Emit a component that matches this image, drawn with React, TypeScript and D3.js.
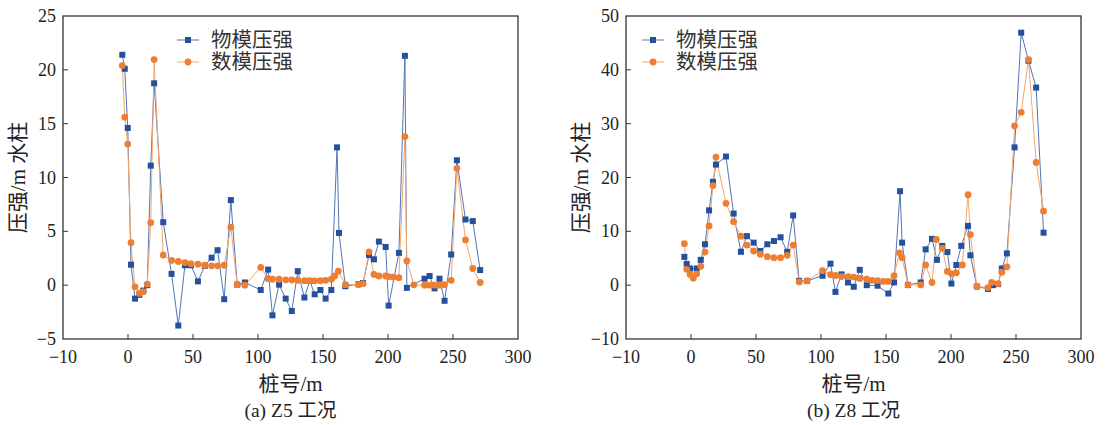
import React from "react";
import * as d3 from "d3";

// ---------- data ----------
const xTickValues = [-50, 0, 50, 100, 150, 200, 250, 300];
const xTickLabels = ["−10", "0", "50", "100", "150", "200", "250", "300"];

const leftYTicks = [-5, 0, 5, 10, 15, 20, 25];
const rightYTicks = [-10, 0, 10, 20, 30, 40, 50];

const seriesNames = ["物模压强", "数模压强"];

// (a) Z5 工况
const z5Physical: [number, number][] = [
  [-4.4, 21.4], [-2.5, 20.1], [-0.2, 14.6], [2.3, 1.9], [5.4, -1.25], [8.7, -0.9], [11.8, -0.5], [14.8, 0],
  [17.5, 11.1], [20.1, 18.75], [27.1, 5.85], [33.5, 1.05], [38.7, -3.75], [43.8, 1.85], [48.4, 1.85], [53.8, 0.35],
  [59.1, 1.8], [64.3, 2.55], [68.9, 3.25], [74, -1.3], [79.1, 7.9], [84, 0.05], [89.9, 0.25], [102.1, -0.45],
  [107.8, 1.45], [111.1, -2.8], [116.2, 0.05], [121.3, -1.25], [126, -2.4], [130.6, 1.3], [135.7, -1.15], [139.8, 0.4],
  [143.6, -0.85], [148, -0.45], [152, -1.25], [156.4, -0.45], [160.8, 12.8], [162.3, 4.85], [167.2, -0.1], [177.4, 0.1],
  [180.8, 0.2], [185.4, 2.8], [189.2, 2.4], [193, 4.05], [198.2, 3.55], [200.5, -1.9], [208.4, 3.0], [213, 21.3],
  [214.5, -0.25], [228.1, 0.6], [232, 0.85], [235.8, -0.3], [239.6, 0.6], [243.5, -1.45], [248.6, 2.85], [253, 11.6],
  [259.6, 6.1], [265.2, 5.95], [270.9, 1.4],
];
const z5Numerical: [number, number][] = [
  [-4.4, 20.4], [-2.5, 15.6], [-0.2, 13.1], [2.3, 3.95], [5.4, -0.15], [8.7, -0.75], [11.8, -0.6], [14.8, 0.1],
  [17.5, 5.8], [20.1, 20.95], [27.1, 2.8], [33.5, 2.3], [38.7, 2.2], [43.8, 2.1], [48.4, 2.0], [53.8, 1.95],
  [59.1, 1.85], [64.3, 1.8], [68.9, 1.8], [74, 1.85], [79.1, 5.4], [84, 0.05], [89.9, 0], [102.1, 1.65],
  [107.8, 0.6], [111.1, 0.55], [116.2, 0.55], [121.3, 0.5], [126, 0.48], [130.6, 0.45], [135.7, 0.42], [139.8, 0.4],
  [143.6, 0.4], [148, 0.42], [152, 0.45], [156.4, 0.55], [159, 0.85], [161.8, 1.3], [167.2, 0.05], [177.4, 0.05],
  [180.8, 0.15], [185.4, 3.1], [189.2, 1.0], [193, 0.85], [198.2, 0.85], [200.5, 0.8], [204, 0.75], [208.4, 0.7],
  [213, 13.8], [214.5, 2.25], [219.9, 0.03], [228.1, 0], [232, 0], [235.8, 0], [239.6, 0], [243.5, 0.05],
  [248.6, 0.45], [253, 10.85], [259.6, 4.2], [265.2, 1.55], [270.9, 0.25],
];

// (b) Z8 工况
const z8Physical: [number, number][] = [
  [-5.1, 5.25], [-3.3, 3.95], [-0.7, 3.1], [4.4, 3.1], [7.5, 4.7], [10.8, 7.6], [13.9, 13.9], [16.9, 19.2],
  [19.2, 22.4], [26.9, 23.9], [32.8, 13.3], [38.4, 6.2], [43, 9.1], [48.2, 7.9], [53.3, 6.35], [58.7, 7.6],
  [63.8, 8.2], [68.9, 8.9], [74, 6.2], [78.6, 12.95], [83.2, 0.8], [89.3, 0.8], [101.2, 1.75], [107.3, 4.0],
  [111.1, -1.25], [115.8, 2.0], [120.8, 0.5], [125.2, -0.3], [129.8, 2.85], [135.2, 0], [143.5, -0.1], [151.8, -1.55],
  [156.2, 0.5], [160.8, 17.45], [162.4, 7.9], [166.9, 0.05], [176.7, 0.5], [180.5, 6.65], [185.4, 8.6], [189.2, 4.7],
  [193.3, 7.3], [197.2, 6.15], [200.3, 0.3], [204.1, 3.75], [207.9, 7.3], [213.1, 11], [214.9, 5.55], [219.9, -0.25],
  [228.4, -0.7], [232.3, 0], [236.2, 0.2], [239.1, 3.1], [243, 5.9], [248.9, 25.6], [254, 46.9], [259.6, 41.7],
  [265.5, 36.7], [271.2, 9.75],
];
const z8Numerical: [number, number][] = [
  [-5.1, 7.7], [-3.3, 2.95], [-0.7, 2.0], [1.8, 1.3], [4.4, 2.1], [7.6, 3.5], [10.8, 6.15], [13.9, 11],
  [16.9, 18.5], [19.2, 23.8], [26.9, 15.2], [32.8, 11.8], [38.4, 9.1], [43, 7.45], [48.2, 6.35], [53.3, 5.75],
  [58.7, 5.3], [63.8, 5.1], [68.9, 5.1], [74, 5.55], [78.6, 7.45], [83.2, 0.6], [89.3, 0.8], [101.2, 2.7],
  [107.3, 1.95], [111.1, 1.8], [115.8, 1.6], [120.8, 1.6], [125.2, 1.5], [129.8, 1.25], [135.2, 1.1], [139.3, 0.9],
  [143.5, 0.85], [148, 0.7], [151.8, 0.7], [156.2, 1.75], [160.3, 6.0], [162.4, 5.1], [166.9, 0.05], [176.7, 0.05],
  [180.5, 3.75], [185.4, 0.5], [188.7, 8.5], [193.3, 6.85], [197.2, 2.55], [200.3, 2.15], [204.1, 2.3], [208.7, 3.75],
  [213.1, 16.8], [214.9, 9.4], [219.9, -0.25], [228.4, -0.45], [231.3, 0.5], [236.2, 0.3], [239.1, 2.4], [243, 3.4],
  [248.9, 29.6], [254, 32.1], [259.6, 41.9], [265.5, 22.8], [271.2, 13.75],
];

// ---------- styles ----------
const BLUE = "#24509c";
const BLUE_LINE = "#5275b9";
const ORANGE = "#ee7f32";
const ORANGE_LINE = "#f3a76c";
const FONT = "'Liberation Serif','Times New Roman','Noto Sans CJK SC',serif";
const CJK = "'Noto Sans CJK SC','Liberation Serif',serif";

type Props = {
  left: number;
  physical: [number, number][];
  numerical: [number, number][];
  yDomain: [number, number];
  yTicks: number[];
  legendX: number;
  caption: string;
};

function Panel({ left, physical, numerical, yDomain, yTicks, legendX, caption }: Props) {
  const top = 16;
  const width = 455;
  const height = 323;
  const x = d3.scaleLinear().domain([-50, 300]).range([left, left + width]);
  const y = d3.scaleLinear().domain(yDomain).range([top + height, top]);
  const line = d3
    .line<[number, number]>()
    .x((d) => x(d[0]))
    .y((d) => y(d[1]));
  const cx = left + width / 2;
  const sq = 6;
  return (
    <g>
      <path d={line(physical) || ""} fill="none" stroke={BLUE_LINE} strokeWidth={1} />
      <path d={line(numerical) || ""} fill="none" stroke={ORANGE_LINE} strokeWidth={1} />
      {physical.map((d, i) => (
        <rect key={"p" + i} x={x(d[0]) - sq / 2} y={y(d[1]) - sq / 2} width={sq} height={sq} fill={BLUE} />
      ))}
      {numerical.map((d, i) => (
        <circle key={"n" + i} cx={x(d[0])} cy={y(d[1])} r={3.4} fill={ORANGE} />
      ))}
      {/* frame */}
      <rect x={left} y={top} width={width} height={height} fill="none" stroke="#333" strokeWidth={1.3} />
      {xTickValues.map((t, i) => (
        <g key={"xt" + i}>
          {i > 0 && i < xTickValues.length - 1 && (
            <line x1={x(t)} x2={x(t)} y1={top + height} y2={top + height - 5} stroke="#333" strokeWidth={1} />
          )}
          <text x={x(t)} y={top + height + 24} textAnchor="middle" fontFamily={FONT} fontSize={18} fill="#222">
            {xTickLabels[i]}
          </text>
        </g>
      ))}
      {yTicks.map((t, i) => (
        <g key={"yt" + i}>
          {i > 0 && i < yTicks.length - 1 && (
            <line x1={left} x2={left + 5} y1={y(t)} y2={y(t)} stroke="#333" strokeWidth={1} />
          )}
          <text x={left - 7} y={y(t) + 6} textAnchor="end" fontFamily={FONT} fontSize={18} fill="#222">
            {t < 0 ? "−" + Math.abs(t) : String(t)}
          </text>
        </g>
      ))}
      {/* axis titles */}
      <text
        transform={`translate(${left - 38},${top + height / 2}) rotate(-90)`}
        textAnchor="middle"
        fontFamily={CJK}
        fontSize={21}
        fill="#222"
      >
        <tspan>压强</tspan>
        <tspan fontFamily={FONT}>/m </tspan>
        <tspan>水柱</tspan>
      </text>
      <text x={cx} y={391} textAnchor="middle" fontFamily={CJK} fontSize={21} fill="#222">
        <tspan>桩号</tspan>
        <tspan fontFamily={FONT}>/m</tspan>
      </text>
      <text x={cx} y={417} textAnchor="middle" fontFamily={FONT} fontSize={19.5} fill="#222">
        {caption}
      </text>
      {/* legend */}
      {seriesNames.map((name, i) => {
        const ly = 40 + i * 22;
        return (
          <g key={"lg" + i}>
            <line x1={legendX} x2={legendX + 22} y1={ly} y2={ly} stroke={i === 0 ? BLUE_LINE : ORANGE_LINE} strokeWidth={1} />
            {i === 0 ? (
              <rect x={legendX + 11 - sq / 2} y={ly - sq / 2} width={sq} height={sq} fill={BLUE} />
            ) : (
              <circle cx={legendX + 11} cy={ly} r={3.4} fill={ORANGE} />
            )}
            <text x={legendX + 34} y={ly + 7} fontFamily={CJK} fontSize={20.5} fill="#333">
              {name}
            </text>
          </g>
        );
      })}
    </g>
  );
}

export default function App() {
  return (
    <svg
      width={1109}
      height={425}
      style={{ position: "absolute", left: 0, top: 0, background: "#fff" }}
    >
      <rect width={1109} height={425} fill="#fff" />
      <Panel
        left={63}
        physical={z5Physical}
        numerical={z5Numerical}
        yDomain={[-5, 25]}
        yTicks={leftYTicks}
        legendX={177}
        caption="(a) Z5 工况"
      />
      <Panel
        left={626}
        physical={z8Physical}
        numerical={z8Numerical}
        yDomain={[-10, 50]}
        yTicks={rightYTicks}
        legendX={642}
        caption="(b) Z8 工况"
      />
    </svg>
  );
}
